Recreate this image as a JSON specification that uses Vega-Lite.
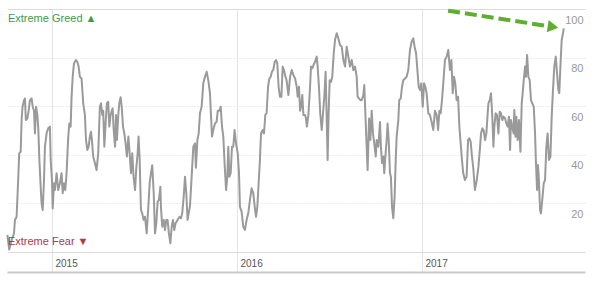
{
  "$schema": "https://vega.github.io/schema/vega-lite/v6.json",
  "width": 578,
  "height": 263,
  "autosize": {"type": "none"},
  "padding": {"left": 7, "top": 9, "right": 15, "bottom": 9},
  "config": {"view": {"stroke": null}, "font": "Liberation Sans"},
  "encoding": {
    "x": {
      "field": "t", "type": "quantitative",
      "scale": {"domain": [2014.757, 2017.881], "nice": false, "zero": false},
      "axis": {"values": [2015, 2016, 2017], "format": "d", "title": null, "grid": true, "gridColor": "#e3e3e3", "gridWidth": 1, "ticks": false, "tickSize": 0, "domainColor": "#c8c8c8", "domainWidth": 2, "labelAlign": "left", "labelBaseline": "alphabetic", "labelPadding": -6, "labelOffset": 3, "labelFlush": false, "labelColor": "#555555", "labelFontSize": 10}
    },
    "y": {
      "field": "v", "type": "quantitative",
      "scale": {"domain": [-8.23, 100], "nice": false, "zero": false},
      "axis": {"orient": "right", "values": [0, 20, 40, 60, 80, 100], "title": null, "grid": true, "gridColor": "#dcdcdc", "gridDash": {"condition": {"test": "datum.value === 0 || datum.value === 100", "value": []}, "value": [1, 2]}, "ticks": false, "tickSize": 0, "domain": false, "labelExpr": "datum.value === 0 ? '' : datum.label", "labelAlign": "right", "labelBaseline": "middle", "labelOffset": 11, "labelPadding": -2, "labelColor": "#999999", "labelFontSize": 11}
    }
  },
  "layer": [
    {
      "data": {"values": [
        {"t":2014.759,"v":7.0},{"t":2014.769,"v":1.0},{"t":2014.782,"v":4.9},{"t":2014.795,"v":7.7},{"t":2014.800,"v":13.2},{"t":2014.809,"v":14.5},{"t":2014.818,"v":31.0},{"t":2014.823,"v":40.6},{"t":2014.831,"v":41.3},{"t":2014.836,"v":54.3},{"t":2014.841,"v":59.8},{"t":2014.849,"v":62.5},{"t":2014.854,"v":63.2},{"t":2014.859,"v":54.3},{"t":2014.867,"v":55.0},{"t":2014.874,"v":58.1},{"t":2014.881,"v":62.5},{"t":2014.890,"v":63.2},{"t":2014.896,"v":59.8},{"t":2014.903,"v":58.1},{"t":2014.908,"v":48.8},{"t":2014.914,"v":59.8},{"t":2014.921,"v":56.4},{"t":2014.926,"v":51.0},{"t":2014.932,"v":37.9},{"t":2014.939,"v":26.9},{"t":2014.944,"v":20.0},{"t":2014.950,"v":17.3},{"t":2014.957,"v":29.6},{"t":2014.962,"v":43.3},{"t":2014.971,"v":48.8},{"t":2014.980,"v":50.9},{"t":2014.989,"v":51.6},{"t":2014.993,"v":37.9},{"t":2015.000,"v":29.6},{"t":2015.004,"v":17.9},{"t":2015.011,"v":28.3},{"t":2015.016,"v":25.5},{"t":2015.025,"v":32.4},{"t":2015.034,"v":25.5},{"t":2015.043,"v":28.3},{"t":2015.052,"v":32.4},{"t":2015.058,"v":24.2},{"t":2015.065,"v":28.3},{"t":2015.072,"v":25.5},{"t":2015.079,"v":32.4},{"t":2015.088,"v":47.5},{"t":2015.094,"v":52.9},{"t":2015.101,"v":51.6},{"t":2015.106,"v":63.9},{"t":2015.112,"v":72.1},{"t":2015.119,"v":77.6},{"t":2015.130,"v":79.0},{"t":2015.137,"v":78.3},{"t":2015.144,"v":76.3},{"t":2015.151,"v":72.1},{"t":2015.160,"v":71.4},{"t":2015.169,"v":61.2},{"t":2015.178,"v":56.4},{"t":2015.184,"v":46.1},{"t":2015.191,"v":42.0},{"t":2015.198,"v":43.3},{"t":2015.205,"v":47.5},{"t":2015.211,"v":49.5},{"t":2015.216,"v":46.1},{"t":2015.223,"v":39.3},{"t":2015.232,"v":36.6},
        {"t":2015.241,"v":33.7},{"t":2015.250,"v":40.6},{"t":2015.259,"v":59.8},{"t":2015.265,"v":61.2},{"t":2015.272,"v":56.4},{"t":2015.277,"v":58.1},{"t":2015.283,"v":43.3},{"t":2015.290,"v":52.9},{"t":2015.297,"v":61.2},{"t":2015.304,"v":61.8},{"t":2015.310,"v":51.6},{"t":2015.317,"v":56.4},{"t":2015.323,"v":58.1},{"t":2015.328,"v":59.1},{"t":2015.333,"v":51.0},{"t":2015.341,"v":43.3},{"t":2015.346,"v":56.4},{"t":2015.351,"v":46.1},{"t":2015.359,"v":57.1},{"t":2015.364,"v":61.2},{"t":2015.371,"v":63.7},{"t":2015.377,"v":59.8},{"t":2015.384,"v":51.6},{"t":2015.391,"v":48.8},{"t":2015.398,"v":44.7},{"t":2015.405,"v":39.3},{"t":2015.413,"v":47.5},{"t":2015.420,"v":40.6},{"t":2015.427,"v":32.4},{"t":2015.434,"v":40.6},{"t":2015.441,"v":31.0},{"t":2015.449,"v":25.5},{"t":2015.456,"v":34.7},{"t":2015.463,"v":40.6},{"t":2015.468,"v":47.5},{"t":2015.474,"v":37.9},{"t":2015.481,"v":17.3},{"t":2015.488,"v":15.9},{"t":2015.495,"v":13.2},{"t":2015.503,"v":14.5},{"t":2015.512,"v":7.7},{"t":2015.521,"v":18.6},{"t":2015.528,"v":28.3},{"t":2015.535,"v":32.4},{"t":2015.542,"v":35.7},{"t":2015.550,"v":24.2},{"t":2015.557,"v":7.7},{"t":2015.564,"v":11.8},{"t":2015.571,"v":20.7},{"t":2015.578,"v":21.4},{"t":2015.586,"v":26.9},{"t":2015.589,"v":18.6},{"t":2015.596,"v":10.4},{"t":2015.604,"v":13.2},{"t":2015.611,"v":9.0},{"t":2015.618,"v":13.2},{"t":2015.625,"v":13.2},{"t":2015.632,"v":7.7},{"t":2015.640,"v":3.6},{"t":2015.647,"v":10.4},{"t":2015.654,"v":13.2},{"t":2015.661,"v":9.0},{"t":2015.668,"v":11.8},{"t":2015.679,"v":13.2},{"t":2015.690,"v":14.5},{"t":2015.697,"v":13.9},{"t":2015.704,"v":15.9},{"t":2015.712,"v":22.8},{"t":2015.719,"v":31.0},{"t":2015.726,"v":24.2},{"t":2015.733,"v":13.2},{"t":2015.746,"v":19.0},
        {"t":2015.755,"v":31.0},{"t":2015.764,"v":43.3},{"t":2015.773,"v":44.7},{"t":2015.778,"v":34.7},{"t":2015.786,"v":46.1},{"t":2015.793,"v":48.8},{"t":2015.800,"v":57.1},{"t":2015.809,"v":59.8},{"t":2015.818,"v":69.4},{"t":2015.827,"v":72.1},{"t":2015.836,"v":74.2},{"t":2015.845,"v":70.7},{"t":2015.854,"v":65.3},{"t":2015.859,"v":57.1},{"t":2015.865,"v":47.5},{"t":2015.872,"v":50.2},{"t":2015.881,"v":52.9},{"t":2015.890,"v":53.6},{"t":2015.896,"v":58.1},{"t":2015.905,"v":58.1},{"t":2015.912,"v":59.8},{"t":2015.919,"v":51.6},{"t":2015.926,"v":47.5},{"t":2015.933,"v":36.6},{"t":2015.941,"v":25.5},{"t":2015.948,"v":31.0},{"t":2015.953,"v":43.3},{"t":2015.959,"v":31.0},{"t":2015.966,"v":32.4},{"t":2015.973,"v":43.3},{"t":2015.980,"v":43.3},{"t":2015.987,"v":50.2},{"t":2015.995,"v":44.7},{"t":2016.004,"v":40.6},{"t":2016.011,"v":32.4},{"t":2016.016,"v":18.6},{"t":2016.025,"v":16.6},{"t":2016.034,"v":10.4},{"t":2016.043,"v":9.1},{"t":2016.052,"v":13.2},{"t":2016.061,"v":15.9},{"t":2016.070,"v":21.4},{"t":2016.079,"v":26.2},{"t":2016.088,"v":24.2},{"t":2016.096,"v":18.6},{"t":2016.103,"v":14.5},{"t":2016.110,"v":18.6},{"t":2016.117,"v":28.3},{"t":2016.124,"v":37.9},{"t":2016.130,"v":48.8},{"t":2016.139,"v":50.2},{"t":2016.146,"v":48.8},{"t":2016.153,"v":56.4},{"t":2016.160,"v":57.1},{"t":2016.168,"v":68.0},{"t":2016.175,"v":71.4},{"t":2016.182,"v":72.1},{"t":2016.189,"v":74.2},{"t":2016.196,"v":74.9},{"t":2016.204,"v":78.3},{"t":2016.211,"v":79.0},{"t":2016.218,"v":77.6},{"t":2016.225,"v":68.0},{"t":2016.232,"v":63.9},{"t":2016.240,"v":63.9},{"t":2016.247,"v":76.3},{"t":2016.254,"v":74.9},{"t":2016.259,"v":73.0},
        {"t":2016.268,"v":70.7},{"t":2016.278,"v":64.6},{"t":2016.287,"v":72.1},{"t":2016.296,"v":74.9},{"t":2016.305,"v":72.8},{"t":2016.314,"v":71.4},{"t":2016.323,"v":68.0},{"t":2016.328,"v":63.9},{"t":2016.335,"v":68.0},{"t":2016.341,"v":58.1},{"t":2016.346,"v":59.8},{"t":2016.353,"v":64.6},{"t":2016.359,"v":56.4},{"t":2016.368,"v":56.4},{"t":2016.373,"v":54.9},{"t":2016.378,"v":51.6},{"t":2016.386,"v":56.4},{"t":2016.395,"v":68.0},{"t":2016.400,"v":76.3},{"t":2016.407,"v":75.6},{"t":2016.414,"v":77.0},{"t":2016.422,"v":78.3},{"t":2016.431,"v":80.4},{"t":2016.436,"v":76.3},{"t":2016.443,"v":68.0},{"t":2016.450,"v":57.1},{"t":2016.458,"v":50.2},{"t":2016.465,"v":57.1},{"t":2016.472,"v":63.9},{"t":2016.479,"v":74.2},{"t":2016.485,"v":54.9},{"t":2016.490,"v":37.9},{"t":2016.495,"v":56.4},{"t":2016.501,"v":70.7},{"t":2016.508,"v":70.0},{"t":2016.515,"v":72.1},{"t":2016.523,"v":81.8},{"t":2016.530,"v":87.3},{"t":2016.539,"v":90.0},{"t":2016.548,"v":87.9},{"t":2016.557,"v":85.2},{"t":2016.566,"v":84.5},{"t":2016.575,"v":79.0},{"t":2016.584,"v":76.3},{"t":2016.593,"v":84.5},{"t":2016.602,"v":80.4},{"t":2016.611,"v":76.3},{"t":2016.620,"v":79.0},{"t":2016.629,"v":74.9},{"t":2016.638,"v":76.3},{"t":2016.647,"v":72.1},{"t":2016.652,"v":63.9},{"t":2016.659,"v":63.2},{"t":2016.667,"v":62.5},{"t":2016.674,"v":62.5},{"t":2016.683,"v":64.6},{"t":2016.688,"v":68.7},{"t":2016.695,"v":54.9},{"t":2016.701,"v":43.3},{"t":2016.706,"v":33.7},{"t":2016.714,"v":54.9},{"t":2016.721,"v":46.1},{"t":2016.728,"v":58.1},{"t":2016.735,"v":48.8},{"t":2016.742,"v":44.7},{"t":2016.750,"v":39.3},{"t":2016.755,"v":46.1},{"t":2016.764,"v":43.3},{"t":2016.773,"v":53.5},
        {"t":2016.778,"v":43.3},{"t":2016.784,"v":36.6},{"t":2016.791,"v":39.3},{"t":2016.796,"v":32.4},{"t":2016.802,"v":39.3},{"t":2016.809,"v":46.1},{"t":2016.814,"v":52.9},{"t":2016.820,"v":46.1},{"t":2016.827,"v":32.4},{"t":2016.832,"v":31.0},{"t":2016.838,"v":18.6},{"t":2016.845,"v":13.9},{"t":2016.852,"v":22.8},{"t":2016.858,"v":37.9},{"t":2016.863,"v":47.5},{"t":2016.872,"v":54.3},{"t":2016.877,"v":62.5},{"t":2016.885,"v":63.2},{"t":2016.892,"v":68.0},{"t":2016.899,"v":70.7},{"t":2016.908,"v":71.4},{"t":2016.917,"v":72.1},{"t":2016.926,"v":74.9},{"t":2016.935,"v":83.1},{"t":2016.944,"v":86.5},{"t":2016.953,"v":87.9},{"t":2016.960,"v":84.5},{"t":2016.968,"v":81.8},{"t":2016.975,"v":74.9},{"t":2016.982,"v":68.0},{"t":2016.989,"v":66.7},{"t":2016.996,"v":69.4},{"t":2017.004,"v":59.8},{"t":2017.011,"v":69.4},{"t":2017.018,"v":68.0},{"t":2017.025,"v":65.3},{"t":2017.034,"v":57.1},{"t":2017.043,"v":56.4},{"t":2017.052,"v":53.6},{"t":2017.061,"v":50.2},{"t":2017.070,"v":58.1},{"t":2017.079,"v":56.4},{"t":2017.087,"v":50.2},{"t":2017.094,"v":58.1},{"t":2017.101,"v":57.1},{"t":2017.108,"v":62.5},{"t":2017.115,"v":69.4},{"t":2017.124,"v":79.0},{"t":2017.133,"v":80.4},{"t":2017.142,"v":83.1},{"t":2017.151,"v":74.9},{"t":2017.159,"v":79.0},{"t":2017.166,"v":65.3},{"t":2017.173,"v":72.1},{"t":2017.180,"v":69.4},{"t":2017.187,"v":62.5},{"t":2017.195,"v":63.9},{"t":2017.202,"v":51.6},{"t":2017.209,"v":44.7},{"t":2017.216,"v":37.9},{"t":2017.223,"v":32.4},{"t":2017.232,"v":29.6},{"t":2017.241,"v":31.0},{"t":2017.249,"v":46.1},{"t":2017.256,"v":46.8},{"t":2017.263,"v":45.4},{"t":2017.270,"v":39.3},{"t":2017.277,"v":34.7},{"t":2017.286,"v":25.5},
        {"t":2017.296,"v":29.6},{"t":2017.305,"v":35.1},{"t":2017.314,"v":43.3},{"t":2017.319,"v":48.8},{"t":2017.326,"v":50.9},{"t":2017.333,"v":50.2},{"t":2017.341,"v":46.1},{"t":2017.348,"v":48.8},{"t":2017.355,"v":57.1},{"t":2017.359,"v":61.2},{"t":2017.366,"v":62.5},{"t":2017.373,"v":65.3},{"t":2017.380,"v":55.7},{"t":2017.386,"v":43.3},{"t":2017.391,"v":51.6},{"t":2017.398,"v":57.1},{"t":2017.405,"v":56.4},{"t":2017.413,"v":48.8},{"t":2017.420,"v":57.7},{"t":2017.427,"v":57.1},{"t":2017.434,"v":54.3},{"t":2017.441,"v":55.7},{"t":2017.449,"v":55.0},{"t":2017.456,"v":52.9},{"t":2017.463,"v":51.6},{"t":2017.470,"v":55.7},{"t":2017.476,"v":42.0},{"t":2017.481,"v":54.3},{"t":2017.488,"v":51.6},{"t":2017.495,"v":48.8},{"t":2017.499,"v":58.4},{"t":2017.505,"v":47.4},{"t":2017.510,"v":55.7},{"t":2017.517,"v":46.1},{"t":2017.524,"v":54.3},{"t":2017.532,"v":41.3},{"t":2017.539,"v":61.2},{"t":2017.544,"v":65.3},{"t":2017.550,"v":70.8},{"t":2017.557,"v":76.3},{"t":2017.562,"v":72.1},{"t":2017.568,"v":81.1},{"t":2017.575,"v":72.1},{"t":2017.582,"v":70.8},{"t":2017.589,"v":62.5},{"t":2017.596,"v":61.2},{"t":2017.604,"v":59.8},{"t":2017.611,"v":48.8},{"t":2017.616,"v":36.5},{"t":2017.622,"v":25.5},{"t":2017.627,"v":35.8},{"t":2017.632,"v":29.6},{"t":2017.638,"v":17.3},{"t":2017.643,"v":15.9},{"t":2017.650,"v":21.4},{"t":2017.658,"v":28.3},{"t":2017.665,"v":29.6},{"t":2017.672,"v":43.3},{"t":2017.679,"v":48.8},{"t":2017.686,"v":37.9},{"t":2017.694,"v":39.2},{"t":2017.701,"v":55.7},{"t":2017.708,"v":66.7},{"t":2017.715,"v":76.3},{"t":2017.723,"v":80.4},{"t":2017.730,"v":73.5},{"t":2017.737,"v":66.7},{"t":2017.742,"v":65.3},{"t":2017.748,"v":76.3},{"t":2017.755,"v":87.2},{"t":2017.762,"v":90.0},{"t":2017.766,"v":92.0}
      ]},
      "mark": {"type": "line", "color": "#9a9a9a", "strokeWidth": 2, "strokeJoin": "round"}
    },
    {
      "data": {"values": [
        {"t": 2014.762, "v": 95.9, "label": "Extreme Greed ▲", "kind": "greed"},
        {"t": 2014.762, "v": 4.1, "label": "Extreme Fear ▼", "kind": "fear"}
      ]},
      "mark": {"type": "text", "align": "left", "baseline": "middle", "fontSize": 11},
      "encoding": {
        "text": {"field": "label"},
        "color": {"field": "kind", "type": "nominal", "scale": {"domain": ["greed", "fear"], "range": ["#3f9a4e", "#b3374a"]}, "legend": null}
      }
    },
    {
      "data": {"values": [{"t": 2017.141, "v": 99.3}, {"t": 2017.686, "v": 92.9}]},
      "mark": {"type": "line", "color": "#5fae2e", "strokeWidth": 4, "strokeDash": [12, 5]}
    },
    {
      "data": {"values": [{"t": 2017.708, "v": 92.6}]},
      "mark": {"type": "point", "shape": "triangle-right", "filled": true, "opacity": 1, "color": "#5fae2e", "size": 150, "angle": 9}
    }
  ]
}
